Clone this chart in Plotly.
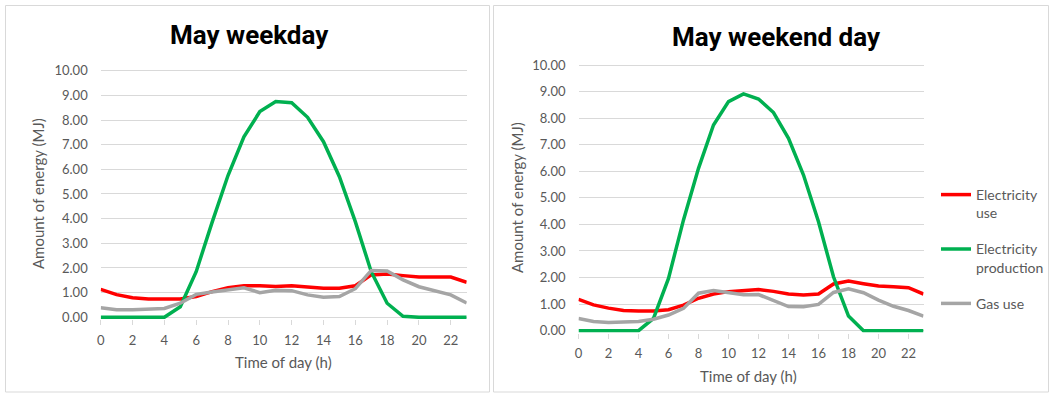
import plotly.graph_objects as go

hours = list(range(24))
x_tick_vals = list(range(0, 23, 2))
y_tick_vals = list(range(0, 11))
y_tick_text = [f"{v:.2f}" for v in y_tick_vals]

series_names = ["Electricity<br>use", "Electricity<br>production", "Gas use"]
series_colors = ["#FF0000", "#00B050", "#A5A5A5"]

weekday_elec_use = [1.13, 0.92, 0.79, 0.74, 0.74, 0.74, 0.84, 1.04, 1.20, 1.28, 1.28, 1.25,
                    1.28, 1.22, 1.18, 1.18, 1.28, 1.72, 1.76, 1.69, 1.63, 1.63, 1.63, 1.42]
weekday_elec_prod = [0, 0, 0, 0, 0, 0.43, 1.85, 3.85, 5.75, 7.32, 8.34, 8.75,
                     8.70, 8.11, 7.12, 5.70, 3.88, 1.85, 0.57, 0.04, 0, 0, 0, 0]
weekday_gas_use = [0.39, 0.31, 0.31, 0.34, 0.36, 0.57, 0.93, 1.03, 1.13, 1.20, 1.00, 1.10,
                   1.08, 0.91, 0.81, 0.84, 1.16, 1.90, 1.88, 1.52, 1.24, 1.06, 0.91, 0.58]

weekend_elec_use = [1.18, 0.97, 0.85, 0.76, 0.74, 0.74, 0.79, 0.96, 1.22, 1.38, 1.47, 1.51,
                    1.55, 1.48, 1.38, 1.34, 1.38, 1.76, 1.87, 1.77, 1.68, 1.65, 1.62, 1.38]
weekend_elec_prod = [0, 0, 0, 0, 0, 0.46, 1.97, 4.17, 6.11, 7.74, 8.62, 8.91,
                     8.72, 8.21, 7.24, 5.86, 4.10, 2.03, 0.55, 0, 0, 0, 0, 0]
weekend_gas_use = [0.46, 0.35, 0.31, 0.34, 0.35, 0.43, 0.59, 0.84, 1.41, 1.51, 1.44, 1.35,
                   1.36, 1.13, 0.91, 0.90, 0.99, 1.44, 1.58, 1.43, 1.15, 0.92, 0.76, 0.55]

titles = ["May weekday", "May weekend day"]
x_title = "Time of day (h)"
y_title = "Amount of energy (MJ)"

W, H = 1051, 394
FONT = "Lato, 'Open Sans', sans-serif"
TITLE_FONT = "Roboto, Lato, sans-serif"
GRAY_TXT = "#595959"
GRID = "#D9D9D9"

# pixel geometry of the two plot areas: (x at h=0, x at h=23, y at 0, y at 10)
panels = [
    dict(x0=100.7, x23=466.7, y0=317.3, y10=70.7),
    dict(x0=578.5, x23=923.5, y0=330.7, y10=65.0),
]
YMIN, YMAX = -0.07, 10.05

fig = go.Figure()
data_sets = [
    [weekday_elec_use, weekday_elec_prod, weekday_gas_use],
    [weekend_elec_use, weekend_elec_prod, weekend_gas_use],
]

layout_axes = {}
for i, (p, ds) in enumerate(zip(panels, data_sets)):
    ppu = (p["y0"] - p["y10"]) / 10.0
    top_px = p["y10"] - (YMAX - 10) * ppu
    bot_px = p["y0"] - YMIN * ppu
    xd = [p["x0"] / W, p["x23"] / W]
    yd = [1 - bot_px / H, 1 - top_px / H]
    xa = "xaxis" if i == 0 else "xaxis2"
    ya = "yaxis" if i == 0 else "yaxis2"
    xref = "x" if i == 0 else "x2"
    yref = "y" if i == 0 else "y2"
    layout_axes[xa] = dict(
        domain=xd, range=[0, 23], anchor=yref, tickmode="array", tickvals=x_tick_vals,
        ticks="outside", ticklen=5, tickcolor=GRID, showgrid=False, showline=False,
        zeroline=False, tickfont=dict(family=FONT, size=13, color=GRAY_TXT),
        ticklabelstandoff=4, fixedrange=True,
    )
    layout_axes[ya] = dict(
        domain=yd, range=[YMIN, YMAX], anchor=xref, tickmode="array", tickvals=y_tick_vals,
        ticktext=y_tick_text, showgrid=True, gridcolor=GRID, gridwidth=1, showline=False,
        zeroline=False, ticks="", tickfont=dict(family=FONT, size=13, color=GRAY_TXT),
        ticklabelstandoff=12, fixedrange=True,
    )
    for j, (name, color, vals) in enumerate(zip(series_names, series_colors, ds)):
        fig.add_trace(go.Scatter(
            x=hours, y=vals, mode="lines", name=name, legendgroup=f"g{j}",
            line=dict(color=color, width=3.5), showlegend=(i == 1),
            xaxis=xref, yaxis=yref,
        ))

fig.update_layout(**layout_axes)

shapes = [
    dict(type="rect", xref="paper", yref="paper", x0=5.5 / W, x1=489.5 / W,
         y0=1 - 392 / H, y1=1 - 5.5 / H, line=dict(color=GRID, width=1), layer="below"),
    dict(type="rect", xref="paper", yref="paper", x0=493.5 / W, x1=1048.5 / W,
         y0=1 - 392 / H, y1=1 - 5.5 / H, line=dict(color=GRID, width=1), layer="below"),
]

annotations = [
    dict(text=f"<b>{titles[0]}</b>", x=249 / W, y=1 - 35 / H, xref="paper", yref="paper",
         showarrow=False, xanchor="center", yanchor="middle",
         font=dict(family=TITLE_FONT, size=26, color="#000000")),
    dict(text=f"<b>{titles[1]}</b>", x=776 / W, y=1 - 37 / H, xref="paper", yref="paper",
         showarrow=False, xanchor="center", yanchor="middle",
         font=dict(family=TITLE_FONT, size=26, color="#000000")),
    dict(text=y_title, x=38 / W, y=1 - 194 / H, xref="paper", yref="paper", textangle=-90,
         showarrow=False, xanchor="center", yanchor="middle",
         font=dict(family=FONT, size=15, color=GRAY_TXT)),
    dict(text=y_title, x=517 / W, y=1 - 198 / H, xref="paper", yref="paper", textangle=-90,
         showarrow=False, xanchor="center", yanchor="middle",
         font=dict(family=FONT, size=15, color=GRAY_TXT)),
    dict(text=x_title, x=283 / W, y=1 - 362 / H, xref="paper", yref="paper",
         showarrow=False, xanchor="center", yanchor="middle",
         font=dict(family=FONT, size=15, color=GRAY_TXT)),
    dict(text=x_title, x=748 / W, y=1 - 376 / H, xref="paper", yref="paper",
         showarrow=False, xanchor="center", yanchor="middle",
         font=dict(family=FONT, size=15, color=GRAY_TXT)),
]

fig.update_layout(
    width=W, height=H, margin=dict(l=0, r=0, t=0, b=0, autoexpand=False),
    paper_bgcolor="white", plot_bgcolor="white",
    shapes=shapes, annotations=annotations,
    legend=dict(x=936 / W, y=1 - 179 / H, xref="container", yref="container",
                xanchor="left", yanchor="top",
                font=dict(family=FONT, size=14, color=GRAY_TXT),
                valign="top", tracegroupgap=15, bgcolor="rgba(0,0,0,0)",
                itemwidth=30),
)

fig.write_html(
    "out.html",
    config={"displayModeBar": False},
    post_script="document.body.style.margin='0';document.body.style.overflow='hidden';",
)
